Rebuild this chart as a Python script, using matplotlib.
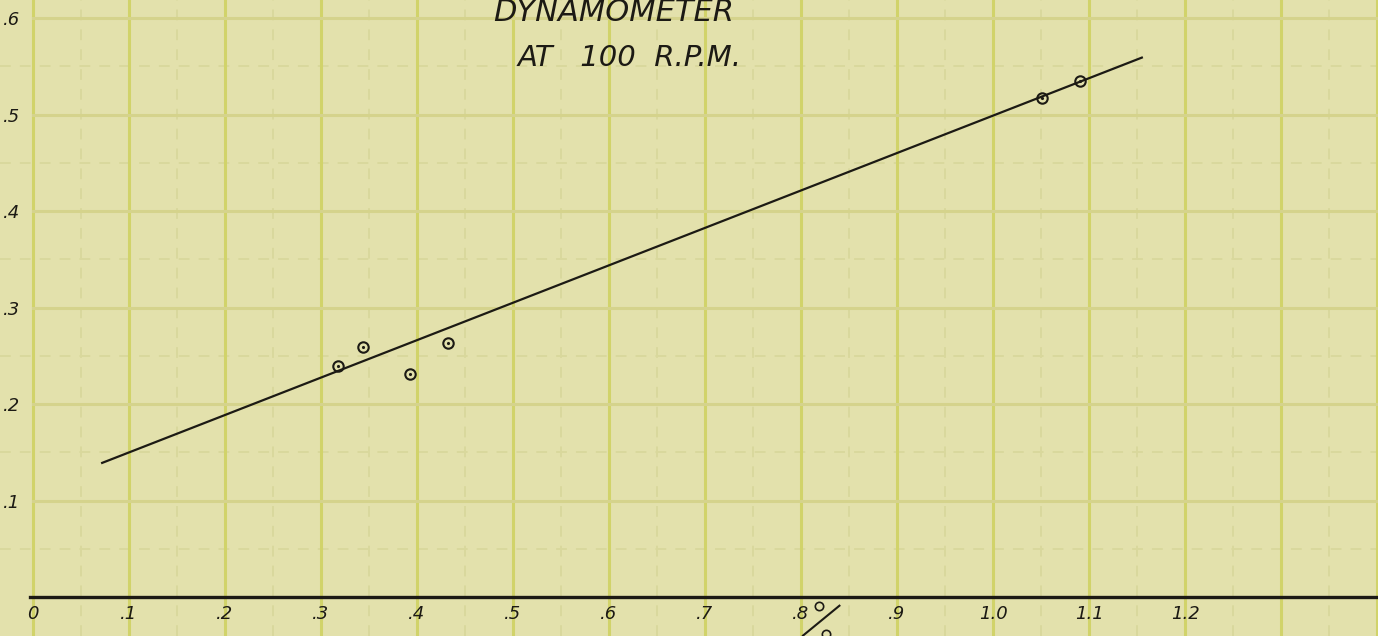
import matplotlib
matplotlib.use("Agg")
import matplotlib.pyplot as plt
import numpy as np

# readings from the dynamometer sheet
pts_x = [0.318, 0.344, 0.393, 0.432, 1.051, 1.091]
pts_y = [0.239, 0.259, 0.231, 0.263, 0.517, 0.535]

# hand-drawn fitted line
fit_x = [0.072, 1.155]
fit_y = [0.139, 0.559]

# stray marks under the .8 label
note_pts_x = [0.819, 0.826]
note_pts_y = [-0.009, -0.038]
slash_x = [0.802, 0.840]
slash_y = [-0.040, -0.009]

x_ticks = [0.0, 0.1, 0.2, 0.3, 0.4, 0.5, 0.6, 0.7, 0.8, 0.9, 1.0, 1.1, 1.2, 1.3, 1.4]
x_labels = ['0', '.1', '.2', '.3', '.4', '.5', '.6', '.7', '.8', '.9', '1.0', '1.1', '1.2', '', '']
y_ticks = [0.0, 0.1, 0.2, 0.3, 0.4, 0.5, 0.6]
y_labels = ['', '.1', '.2', '.3', '.4', '.5', '.6']

title1 = 'DYNAMOMETER'
title2 = 'AT   100  R.P.M.'

paper = '#e3e1ac'
grid_v = '#d1d36a'
grid_h = '#d5d38c'
grid_minor = '#d9d89c'
ink = '#1c1a14'

fig = plt.figure(figsize=(13.78, 6.36), dpi=100)
fig.patch.set_facecolor(paper)
ax = fig.add_axes([0, 0, 1, 1])
ax.set_facecolor(paper)

ax.set_xlim(-0.0344, 1.401)
ax.set_ylim(-0.0404, 0.6187)

# graph paper grid
for v in np.arange(0.05, 1.45, 0.1):
    ax.axvline(v, color=grid_minor, lw=1.3, ls=(0, (6, 5)), zorder=0)
for v in np.arange(0.05, 0.65, 0.1):
    ax.axhline(v, color=grid_minor, lw=1.3, ls=(0, (6, 5)), zorder=0)
for v in x_ticks:
    ax.axvline(v, color=grid_v, lw=2.2, zorder=0.5)
for v in y_ticks[1:]:
    ax.axhline(v, xmin=0.024, color=grid_h, lw=2.2, zorder=0.5)

ax.spines['top'].set_visible(False)
ax.spines['right'].set_visible(False)
ax.spines['left'].set_visible(False)
ax.spines['left'].set_position(('data', 0))
ax.spines['bottom'].set_position(('data', 0))
ax.spines['bottom'].set_bounds(-0.003, 1.401)
ax.spines['bottom'].set_color(ink)
ax.spines['bottom'].set_linewidth(2.4)

ax.set_xticks(x_ticks)
ax.set_xticklabels(x_labels, fontsize=13, fontstyle='italic', color=ink)
ax.set_yticks(y_ticks)
ax.set_yticklabels(y_labels, fontsize=13, fontstyle='italic', color=ink)
ax.tick_params(axis='x', length=0, pad=6)
ax.tick_params(axis='y', length=0, pad=9)

ax.plot(fit_x, fit_y, color=ink, lw=1.6, zorder=3)
ax.plot(pts_x, pts_y, ls='none', marker='o', ms=7.5, mfc='none', mec=ink, mew=1.5, zorder=4)
ax.plot(pts_x, pts_y, ls='none', marker='.', ms=2.5, color=ink, zorder=4)

ax.plot(slash_x, slash_y, color=ink, lw=1.5, zorder=4)
ax.plot(note_pts_x, note_pts_y, ls='none', marker='o', ms=6, mfc='none', mec=ink, mew=1.2, zorder=4)

ax.text(0.605, 0.606, title1, ha='center', va='center', fontsize=22,
        fontstyle='italic', color=ink)
ax.text(0.621, 0.5585, title2, ha='center', va='center', fontsize=21,
        fontstyle='italic', color=ink)

fig.savefig('out.png', dpi=100, facecolor=paper)
